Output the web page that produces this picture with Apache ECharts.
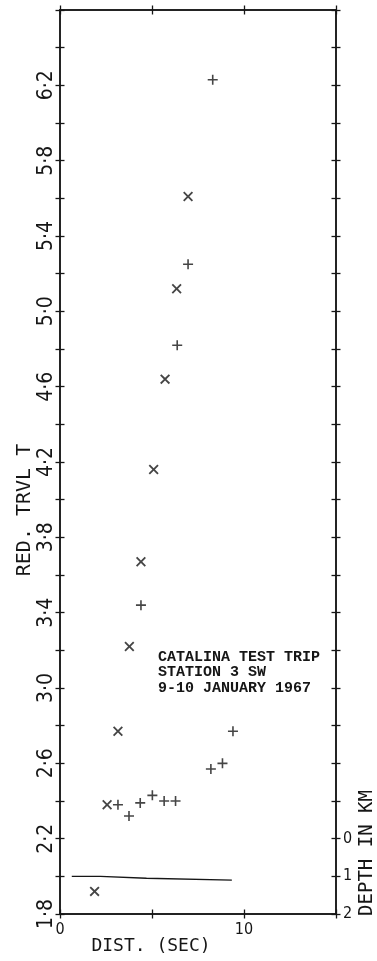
<!DOCTYPE html>
<html><head><meta charset="utf-8">
<script src="https://cdn.jsdelivr.net/npm/echarts@6/dist/echarts.min.js"></script>
<style>html,body{margin:0;padding:0;background:#fff}#c{width:377px;height:961px}</style>
</head><body><div id="c"></div>
<script>
// ---- data ----
const xRange = [0, 15];
const yRange = [1.8, 6.6];
const xLabelShown = ['0', '10'];
const yLabelShown = ['1·8','2·2','2·6','3·0','3·4','3·8','4·2','4·6','5·0','5·4','5·8','6·2'];
const depthLabels = {'2.2': '0', '2.0': '1', '1.8': '2'};
// 'x' markers [dist, reduced travel time]
const crossPoints = [[6.96,5.61],[6.34,5.12],[5.71,4.64],[5.09,4.16],[4.40,3.67],[3.77,3.22],[3.15,2.77],[2.56,2.38],[1.88,1.92]];
// '+' markers
const plusPoints = [[8.30,6.23],[6.96,5.25],[6.37,4.82],[4.40,3.44],[9.40,2.77],[8.20,2.57],[8.83,2.60],[3.15,2.38],[3.75,2.32],[4.36,2.39],[5.02,2.43],[5.66,2.40],[6.28,2.40]];
// depth profile [dist, depth km]
const depthProfile = [[0.64,1.0],[2.2,1.0],[2.2,1.05],[4.7,1.05],[4.7,1.1],[9.34,1.1]];
const noteLines = ['CATALINA TEST TRIP','STATION 3 SW','9-10 JANUARY 1967'];

// ---- chart ----
const ink = '#161616';
const depthToY = d => 2.2 - 0.2 * d;
const numFont = 'DejaVu Sans Condensed, DejaVu Sans, sans-serif';
const nameFont = 'DejaVu Sans Mono, monospace';
const fmtY = v => { const s = (Math.round(v*10)/10).toFixed(1).replace('.', '·'); return yLabelShown.includes(s) ? s : ''; };
const fmtX = v => { const s = String(Math.round(v)); return xLabelShown.includes(s) ? s : ''; };
const fmtD = v => depthLabels[(Math.round(v*10)/10).toFixed(1)] || '';

function xAx(pos, inside, labels) {
  return { type:'value', min:xRange[0], max:xRange[1], interval:5, position:pos,
    axisLine:{show:true, onZero:false, lineStyle:{color:ink, width:1.5}},
    axisTick:{show:true, inside:inside, length:4.5, lineStyle:{color:ink, width:1.3}},
    axisLabel:{show:labels, formatter:fmtX, color:ink, fontFamily:numFont, fontSize:16, margin:8},
    splitLine:{show:false} };
}
function yAx(pos, inside, labels, fmt, rot) {
  return { type:'value', min:yRange[0], max:yRange[1], interval:0.2, position:pos,
    axisLine:{show:true, onZero:false, lineStyle:{color:ink, width:1.5}},
    axisTick:{show:true, inside:inside, length:4.5, lineStyle:{color:ink, width:1.3}},
    axisLabel:{show:labels, formatter:fmt, rotate:rot, color:ink, fontFamily:numFont,
      fontSize: rot ? 21 : 16, margin: rot ? 3 : 7, showMaxLabel:true, showMinLabel:true},
    splitLine:{show:false} };
}
const plusPath = 'path://M4.2,0h1.6v4.2h4.2v1.6h-4.2v4.2h-1.6v-4.2h-4.2v-1.6h4.2z';
const crossPath = 'path://M0,1.3L1.3,0L5,3.7L8.7,0L10,1.3L6.3,5L10,8.7L8.7,10L5,6.3L1.3,10L0,8.7L3.7,5Z';

const chart = echarts.init(document.getElementById('c'), null, {renderer:'canvas'});
chart.setOption({
  backgroundColor:'#ffffff',
  animation:false,
  grid:{left:60, right:41, top:10, bottom:47},
  xAxis:[xAx('bottom', false, true), xAx('bottom', true, false), xAx('top', false, false), xAx('top', true, false)],
  yAxis:[yAx('left', false, true, fmtY, 90), yAx('left', true, false, fmtY, 0), yAx('right', false, true, fmtD, 0), yAx('right', true, false, fmtD, 0)],
  series:[
    {type:'scatter', data:crossPoints, symbol:crossPath, symbolSize:10, itemStyle:{color:ink}},
    {type:'scatter', data:plusPoints, symbol:plusPath, symbolSize:10, itemStyle:{color:ink}},
    {type:'line', data:depthProfile.map(p => [p[0], depthToY(p[1])]), showSymbol:false, symbol:'none',
      lineStyle:{color:ink, width:1.4}}
  ],
  graphic:[
    {type:'text', left:158, top:649, style:{text:noteLines.join('\n'), font:'bold 15px "Liberation Mono", monospace', lineHeight:15.5, fill:ink}},
    {type:'text', x:25, y:510, rotation:Math.PI/2, style:{text:'RED. TRVL T', font:'20px ' + nameFont, fill:ink, align:'center', verticalAlign:'middle'}},
    {type:'text', x:151, y:946, style:{text:'DIST. (SEC)', font:'18px ' + nameFont, fill:ink, align:'center', verticalAlign:'middle'}},
    {type:'text', x:367, y:853, rotation:Math.PI/2, style:{text:'DEPTH IN KM', font:'19px ' + nameFont, fill:ink, align:'center', verticalAlign:'middle'}}
  ]
});
</script></body></html>
